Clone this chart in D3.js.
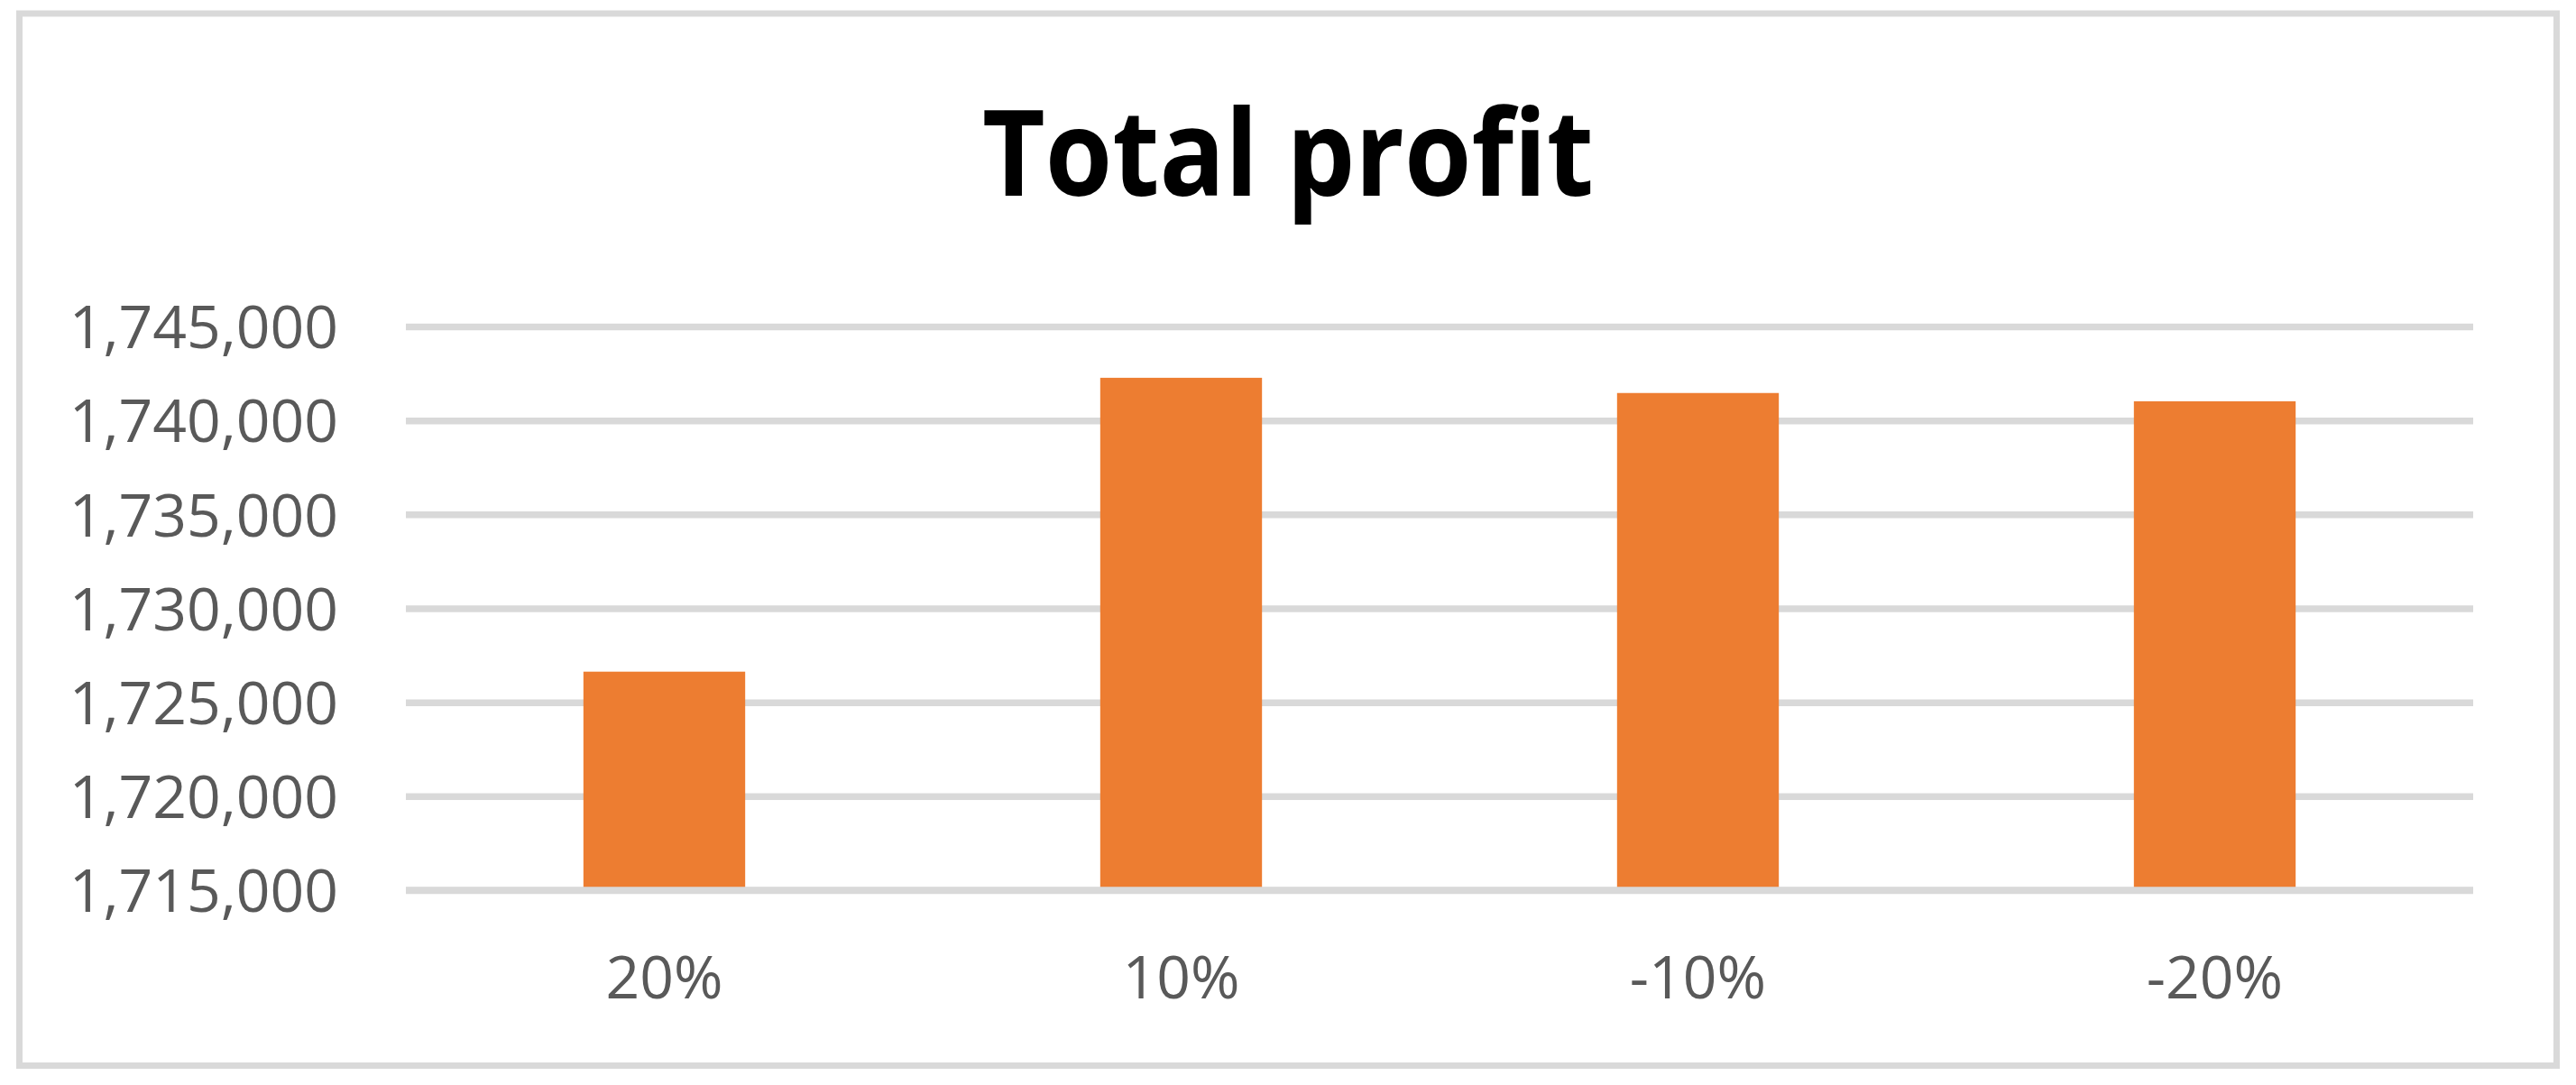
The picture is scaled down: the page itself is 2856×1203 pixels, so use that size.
<!DOCTYPE html>
<html>
<head>
<meta charset="utf-8">
<script src="https://cdn.jsdelivr.net/npm/d3@7"></script>
<style>
  body { margin: 0; background: #fff; }
</style>
</head>
<body>
<div id="graph"></div>
<script>
// data
var categories = ["20%", "10%", "-10%", "-20%"];
var profits = [1726630, 1742270, 1741460, 1741020];
var yTicks = [1715000, 1720000, 1725000, 1730000, 1735000, 1740000, 1745000];
var chartTitle = "Total profit";

// measurements
var width = 2856;
var height = 1203;
var margin = { top: 362, right: 114, bottom: 216, left: 450 };
var chartWidth = width - margin.left - margin.right;
var chartHeight = height - margin.top - margin.bottom;

var fontFamily = "'Open Sans', 'Noto Sans', sans-serif";
var textColor = "#595959";
var gridColor = "#d9d9d9";
var barColor = "#ed7d31";

var chart;

initChart();
createAxis();
drawBars();

function initChart () {
    chart = d3.select("#graph").append("svg")
        .attr("width", width)
        .attr("height", height)
        .style("display", "block");

    // chart border
    chart.append("rect")
        .attr("x", 21.5)
        .attr("y", 15)
        .attr("width", 2813)
        .attr("height", 1166.5)
        .style("fill", "#fff")
        .style("stroke", gridColor)
        .style("stroke-width", 7);

    // title
    chart.append("text")
        .attr("x", 1428)
        .attr("y", 217)
        .attr("text-anchor", "middle")
        .attr("textLength", 678)
        .attr("lengthAdjust", "spacingAndGlyphs")
        .style("font-family", fontFamily)
        .style("font-weight", "bold")
        .style("font-size", "132px")
        .style("fill", "#000")
        .text(chartTitle);

    chart.plotArea = chart.append("g")
        .attr("transform", "translate(" + margin.left + "," + margin.top + ")");
}

function createAxis () {
    chart.xScale = d3.scaleBand()
        .domain(categories)
        .range([0, chartWidth])
        .paddingInner(0.687)
        .paddingOuter(0.3435);

    chart.yScale = d3.scaleLinear()
        .domain([d3.min(yTicks), d3.max(yTicks)])
        .range([chartHeight, 0]);

    // gridlines + y labels
    chart.yAxis = d3.axisLeft(chart.yScale)
        .tickValues(yTicks)
        .tickFormat(d3.format(","))
        .tickSize(-chartWidth)
        .tickPadding(75);

    chart.yAxisContainer = chart.plotArea.append("g")
        .call(chart.yAxis);

    chart.yAxisContainer.select(".domain").remove();
    chart.yAxisContainer.selectAll(".tick line")
        .style("stroke", gridColor)
        .style("stroke-width", 7.5);
    chart.yAxisContainer.selectAll(".tick text")
        .attr("dy", "0.36em")
        .style("font-family", fontFamily)
        .style("font-size", "66px")
        .style("fill", textColor);

    // x labels
    chart.xAxis = d3.axisBottom(chart.xScale)
        .tickSize(0)
        .tickPadding(73);

    chart.xAxisContainer = chart.plotArea.append("g")
        .attr("class", "xAxis")
        .attr("transform", "translate(0," + chartHeight + ")")
        .call(chart.xAxis);

    chart.xAxisContainer.select(".domain").remove();
    chart.xAxisContainer.selectAll(".tick text")
        .style("font-family", fontFamily)
        .style("font-size", "66px")
        .style("fill", textColor);
}

function drawBars () {
    chart.plotArea.selectAll(".bar")
        .data(profits)
        .enter().append("rect")
          .attr("class", "bar")
          .attr("x", function(d, i) { return chart.xScale(categories[i]); })
          .attr("width", chart.xScale.bandwidth())
          .attr("y", function(d) { return chart.yScale(d); })
          .attr("height", function(d) { return chartHeight - chart.yScale(d); })
          .style("fill", barColor);

    // baseline drawn over the bar bottoms
    chart.plotArea.append("line")
        .attr("x1", 0)
        .attr("x2", chartWidth)
        .attr("y1", chart.yScale(d3.min(yTicks)))
        .attr("y2", chart.yScale(d3.min(yTicks)))
        .style("stroke", gridColor)
        .style("stroke-width", 7.5);
}
</script>
</body>
</html>
